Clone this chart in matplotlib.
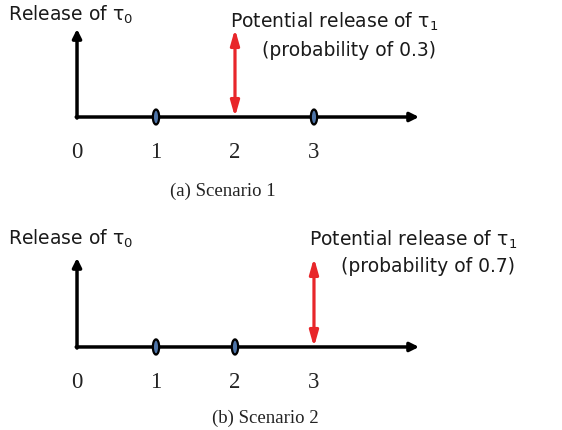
import matplotlib
matplotlib.use('Agg')
import matplotlib.pyplot as plt
from matplotlib.patches import Ellipse

# data
time_labels = ['0', '1', '2', '3']
time_points = [0, 1, 2, 3]
tick_marks = [[1, 3], [1, 2]]          # blue markers on the time axis
release_t1 = [2, 3]                    # potential release time of tau_1
probability = [0.3, 0.7]
captions = ['(a) Scenario 1', '(b) Scenario 2']

sans = ['DejaVu Sans']
serif = 'Liberation Serif'
plt.rcParams['mathtext.fontset'] = 'dejavusans'

fig = plt.figure(figsize=(5.62, 4.30), dpi=100)

# per panel: axes rect, ylim, caption pos, text y for "Release", "Potential", "(prob..."
panels = [
    dict(rect=[0, 0.5, 1, 0.5], ylim=(-1.114, 1.33), cap_x=1.84, cap_y=-0.85,
         rel_y=1.16, pot_y=1.08, prob_y=0.76),
    dict(rect=[0, 0.0, 1, 0.5], ylim=(-0.933, 1.483), cap_x=2.38, cap_y=-0.80,
         rel_y=1.22, pot_y=1.20, prob_y=0.90),
]

for i, p in enumerate(panels):
    ax = fig.add_axes(p['rect'])
    ax.set_xlim(-0.975, 6.14)
    ax.set_ylim(*p['ylim'])
    ax.axis('off')

    # time axis and vertical axis
    ax.annotate('', xy=(4.33, 0), xytext=(-0.01, 0),
                arrowprops=dict(arrowstyle='-|>', lw=2.5, color='black',
                                mutation_scale=13, shrinkA=0, shrinkB=0))
    ax.annotate('', xy=(0, 1.0), xytext=(0, -0.012),
                arrowprops=dict(arrowstyle='-|>', lw=2.5, color='black',
                                mutation_scale=13, shrinkA=0, shrinkB=0))

    # small ellipse markers
    for t in tick_marks[i]:
        ax.add_patch(Ellipse((t, 0), width=0.08, height=0.17, facecolor='#4d74a8',
                             edgecolor='black', lw=1.6, zorder=3))

    # red double arrow
    r = release_t1[i]
    ax.annotate('', xy=(r, 1.0), xytext=(r, 0),
                arrowprops=dict(arrowstyle='<|-|>,head_length=0.7,head_width=0.2',
                                lw=2.3, color='#e8262a',
                                mutation_scale=13, shrinkA=0, shrinkB=0))

    for t, lab in zip(time_points, time_labels):
        ax.text(t, -0.40, lab, ha='center', va='center', fontsize=16.5,
                family=serif, color='#222222')

    ax.text(-0.87, p['rel_y'], r'Release of $\mathregular{\tau_0}$', ha='left',
            va='center', fontsize=13.5, family=sans, color='#1a1a1a')
    ax.text(r + 2.57, p['pot_y'], r'Potential release of $\mathregular{\tau_1}$',
            ha='right', va='center', fontsize=13.5, family=sans, color='#1a1a1a')
    ax.text(r + 2.55, p['prob_y'], f'(probability of {probability[i]})', ha='right',
            va='center', fontsize=13.5, family=sans, color='#1a1a1a')

    ax.text(p['cap_x'], p['cap_y'], captions[i], ha='center', va='center',
            fontsize=13.5, family=serif, color='#222222')

fig.savefig('out.png', dpi=100)
